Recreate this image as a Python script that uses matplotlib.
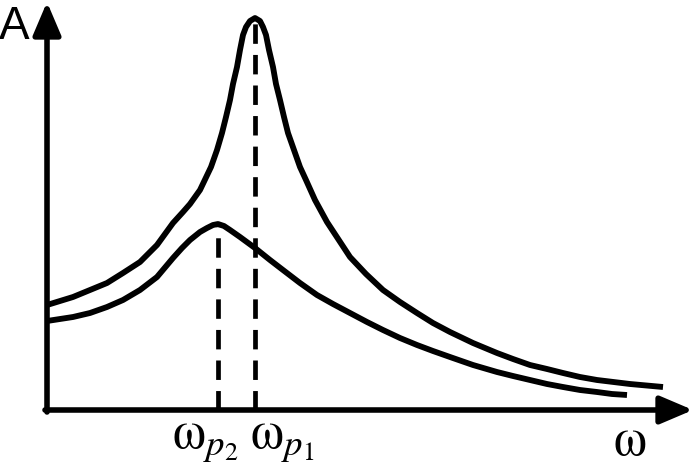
import matplotlib.pyplot as plt

plt.rcParams['mathtext.fontset'] = 'stix'
plt.rcParams['lines.scale_dashes'] = False

# curve points: omega (px from A axis), A (px above omega axis)
w1 = [0, 13, 26, 43, 60, 76, 93, 110, 126, 136, 143, 153, 164, 170, 175, 179, 183, 186, 190, 193,
      196, 199, 203, 208, 213, 216, 219, 222, 226, 229, 233, 237, 241, 247, 253, 259, 268, 280,
      303, 319, 336, 353, 370, 386, 403, 426, 450, 466, 483, 500, 516, 533, 550, 583, 616]
a1 = [105, 109, 113, 120, 127, 137, 148, 165, 187, 198, 206, 220, 243, 260, 277, 293, 310, 326, 343, 360,
      375, 383, 389, 392, 389, 383, 375, 360, 343, 326, 310, 293, 277, 260, 243, 230, 210, 188,
      153, 136, 120, 108, 97, 87, 78, 67, 57, 51, 45, 41, 37, 33, 30, 26, 23]
w2 = [0, 13, 26, 43, 60, 76, 93, 110, 126, 135, 143, 153, 160, 166, 171, 177, 183, 193, 208, 223,
      236, 253, 270, 286, 303, 320, 336, 353, 370, 386, 403, 426, 450, 466, 483, 500, 516, 533, 550, 565, 580]
a2 = [89, 91, 93, 97, 103, 110, 120, 133, 152, 162, 170, 178, 182, 185, 186, 184, 180, 173, 162, 150,
      140, 127, 115, 106, 97, 88, 80, 72, 65, 59, 53, 45, 38, 34, 30, 26, 23, 20, 18, 16, 15]

peak1 = (208, 392)
peak2 = (171, 186)

fig = plt.figure(figsize=(6.94, 4.74), dpi=100)
ax = fig.add_axes([0, 0, 1, 1])
ax.set_xlim(-47, 647)
ax.set_ylim(-64, 410)
ax.axis('off')

ax.plot(w1, a1, color='black', lw=4.2, solid_capstyle='butt', solid_joinstyle='round')
ax.plot(w2, a2, color='black', lw=4.2, solid_capstyle='butt', solid_joinstyle='round')

for p in [peak1, peak2]:
    ax.plot([p[0], p[0]], [0, p[1]], color='black', lw=3.4, dashes=(14, 8), dash_capstyle='butt')

arrow = dict(arrowstyle='-|>,head_length=2.0,head_width=0.85', lw=4.0, color='black',
             shrinkA=0, shrinkB=0)
ax.annotate('', xy=(0, 408), xytext=(0, -2), arrowprops=arrow)
ax.annotate('', xy=(646, 0), xytext=(-2, 0), arrowprops=arrow)

ax.text(-33, 383, 'A', fontsize=33, family='Liberation Sans', ha='center', va='center')
ax.text(583, -30, r'$\mathrm{\omega}$', fontsize=38, ha='center', va='center')
ax.text(125, -38, r'$\mathrm{\omega}_{p_2}$', fontsize=38, ha='left', va='baseline')
ax.text(203, -38, r'$\mathrm{\omega}_{p_1}$', fontsize=38, ha='left', va='baseline')

fig.savefig('out.png', dpi=100)
